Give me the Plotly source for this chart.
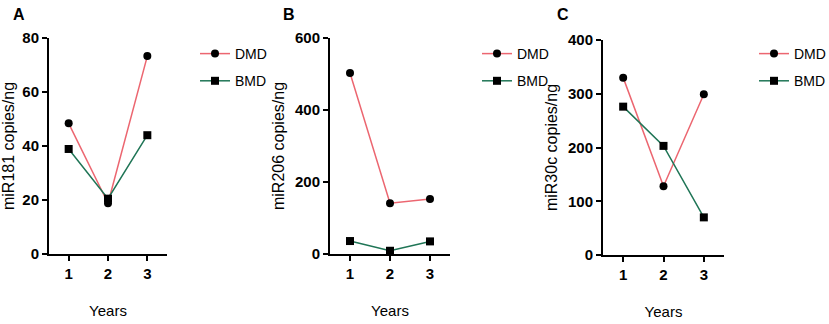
import plotly.graph_objects as go

years = [1, 2, 3]
panel_labels = ["A", "B", "C"]
y_titles = ["miR181 copies/ng", "miR206 copies/ng", "miR30c copies/ng"]
dmd_a = [48.4, 18.8, 73.3]
bmd_a = [38.9, 20.5, 44.0]
dmd_b = [503, 141, 153]
bmd_b = [36, 9, 35]
dmd_c = [330, 128, 299]
bmd_c = [276, 203, 70]
y_ranges = [[0, 80], [0, 600], [0, 400]]
y_dticks = [20, 200, 100]

RED = "#ec6670"
GREEN = "#1f7556"
W, H = 829, 324

fig = go.Figure()
data = [(dmd_a, bmd_a), (dmd_b, bmd_b), (dmd_c, bmd_c)]
x_px = [(49, 167), (330, 450), (603, 724)]
y_px = [(38, 254), (38, 254), (40, 255)]
legend_x = [195, 477, 754]
legend_names = ["legend", "legend2", "legend3"]
label_x = [11, 281, 555]

layout = dict(
    width=W, height=H, margin=dict(l=0, r=0, t=0, b=0, autoexpand=False),
    plot_bgcolor="white", paper_bgcolor="white",
    font=dict(family="Liberation Sans, Arial", color="black"),
    showlegend=True,
)

for i, (dmd, bmd) in enumerate(data):
    sfx = "" if i == 0 else str(i + 1)
    xa = "x" + sfx
    ya = "y" + sfx
    fig.add_trace(go.Scatter(
        x=years, y=dmd, name="DMD", mode="lines+markers",
        line=dict(color=RED, width=1.5),
        marker=dict(symbol="circle", size=8, color="black"),
        xaxis=xa, yaxis=ya, legend=legend_names[i], legendgroup="d%d" % i,
        cliponaxis=False))
    fig.add_trace(go.Scatter(
        x=years, y=bmd, name="BMD", mode="lines+markers",
        line=dict(color=GREEN, width=1.5),
        marker=dict(symbol="square", size=8, color="black"),
        xaxis=xa, yaxis=ya, legend=legend_names[i], legendgroup="b%d" % i,
        cliponaxis=False))
    x0, x1 = x_px[i]
    yt, yb = y_px[i]
    layout["xaxis" + sfx] = dict(
        domain=[x0 / W, x1 / W], range=[0.5, 3.5], anchor=ya, automargin=False,
        tickvals=years, ticktext=[str(v) for v in years],
        showline=True, linecolor="black", linewidth=2,
        ticks="outside", ticklen=5, tickwidth=2, tickcolor="black",
        showgrid=False, zeroline=False,
        tickfont=dict(size=15, family="Liberation Sans, Arial", weight="bold"),
        title=dict(text="Years", font=dict(size=15), standoff=24),
    )
    layout["yaxis" + sfx] = dict(
        domain=[(H - yb) / H, (H - yt) / H], range=y_ranges[i], anchor=xa,
        automargin=False,
        dtick=y_dticks[i], tick0=0,
        showline=True, linecolor="black", linewidth=2,
        ticks="outside", ticklen=5, tickwidth=2, tickcolor="black",
        showgrid=False, zeroline=False,
        tickfont=dict(size=15, family="Liberation Sans, Arial", weight="bold"),
        title=dict(text=y_titles[i], font=dict(size=16), standoff=6),
    )
    layout[legend_names[i]] = dict(
        x=legend_x[i] / W, y=1 - 38 / H, xanchor="left", yanchor="top",
        font=dict(size=14), bgcolor="rgba(0,0,0,0)", tracegroupgap=6,
    )

fig.update_layout(**layout)

for i, lab in enumerate(panel_labels):
    fig.add_annotation(
        text="<b>%s</b>" % lab, x=label_x[i] / W, y=1 - 4 / H,
        xref="paper", yref="paper", xanchor="left", yanchor="top",
        showarrow=False, font=dict(size=16, color="black"))

fig.write_html(
    "out.html",
    config={"displayModeBar": False},
    post_script="document.body.style.margin='0px';document.body.style.overflow='hidden';",
)
